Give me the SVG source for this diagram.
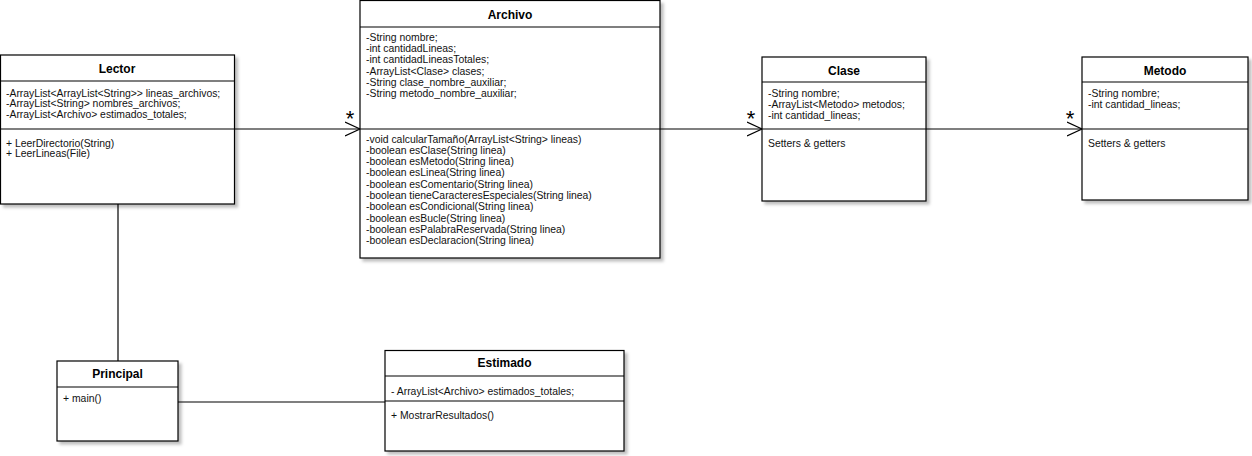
<svg xmlns="http://www.w3.org/2000/svg" width="1252" height="456" viewBox="0 0 1252 456">
<style>
.box{fill:#fff;stroke:#000;stroke-width:1.2;filter:url(#sh)}
.ln{stroke:#000;stroke-width:1.2;fill:none}
.t{font-family:"Liberation Sans",Arial,sans-serif;font-size:12px;font-weight:bold;fill:#000;text-anchor:middle}
.m{font-family:"Liberation Sans",Arial,sans-serif;font-size:10.4px;fill:#111}
.star{font-family:"Liberation Sans",Arial,sans-serif;font-size:22px;fill:#000;text-anchor:middle}
</style>
<defs>
<filter id="sh" x="-10%" y="-10%" width="130%" height="130%">
<feDropShadow dx="3" dy="3" stdDeviation="1.5" flood-color="#000" flood-opacity="0.25"/>
</filter>
<marker id="open" markerWidth="18" markerHeight="18" refX="15" refY="8" orient="auto" markerUnits="userSpaceOnUse">
<path d="M0,1 L15,8 L0,15" fill="none" stroke="#000" stroke-width="1.2"/>
</marker>
</defs>
<g id="connectors">
<line class="ln" x1="234" y1="129" x2="360" y2="129" marker-end="url(#open)"/>
<text class="star" x="350" y="126">*</text>
<line class="ln" x1="660" y1="129" x2="762" y2="129" marker-end="url(#open)"/>
<text class="star" x="751" y="126">*</text>
<line class="ln" x1="926" y1="129" x2="1082" y2="129" marker-end="url(#open)"/>
<text class="star" x="1070" y="126">*</text>
<line class="ln" x1="118" y1="204" x2="118" y2="361"/>
<line class="ln" x1="178" y1="402" x2="385" y2="402"/>
</g>
<g id="Lector">
<rect class="box" x="0.5" y="55" width="234" height="149"/>
<line class="ln" x1="0.5" y1="81" x2="234.5" y2="81"/>
<line class="ln" x1="0.5" y1="129" x2="234.5" y2="129"/>
<text class="t" x="117" y="72.5">Lector</text>
<text class="m" x="6" y="96.5">-ArrayList&lt;ArrayList&lt;String&gt;&gt; lineas_archivos;</text>
<text class="m" x="6" y="107">-ArrayList&lt;String&gt; nombres_archivos;</text>
<text class="m" x="6" y="117.5">-ArrayList&lt;Archivo&gt; estimados_totales;</text>
<text class="m" x="6" y="146.5">+ LeerDirectorio(String)</text>
<text class="m" x="6" y="157">+ LeerLineas(File)</text>
</g>
<g id="Archivo">
<rect class="box" x="360" y="0.5" width="300" height="257.5"/>
<line class="ln" x1="360" y1="27" x2="660" y2="27"/>
<line class="ln" x1="360" y1="129" x2="660" y2="129"/>
<text class="t" x="510" y="18.5">Archivo</text>
<text class="m" x="366" y="41">-String nombre;</text>
<text class="m" x="366" y="52.2">-int cantidadLineas;</text>
<text class="m" x="366" y="63.4">-int cantidadLineasTotales;</text>
<text class="m" x="366" y="74.6">-ArrayList&lt;Clase&gt; clases;</text>
<text class="m" x="366" y="85.8">-String clase_nombre_auxiliar;</text>
<text class="m" x="366" y="97">-String metodo_nombre_auxiliar;</text>
<text class="m" x="366" y="142.5">-void calcularTamaño(ArrayList&lt;String&gt; lineas)</text>
<text class="m" x="366" y="153.8">-boolean esClase(String linea)</text>
<text class="m" x="366" y="165.1">-boolean esMetodo(String linea)</text>
<text class="m" x="366" y="176.4">-boolean esLinea(String linea)</text>
<text class="m" x="366" y="187.7">-boolean esComentario(String linea)</text>
<text class="m" x="366" y="199">-boolean tieneCaracteresEspeciales(String linea)</text>
<text class="m" x="366" y="210.3">-boolean esCondicional(String linea)</text>
<text class="m" x="366" y="221.6">-boolean esBucle(String linea)</text>
<text class="m" x="366" y="232.9">-boolean esPalabraReservada(String linea)</text>
<text class="m" x="366" y="244.2">-boolean esDeclaracion(String linea)</text>
</g>
<g id="Clase">
<rect class="box" x="762" y="57" width="164" height="144"/>
<line class="ln" x1="762" y1="82" x2="926" y2="82"/>
<line class="ln" x1="762" y1="129" x2="926" y2="129"/>
<text class="t" x="844" y="74.5">Clase</text>
<text class="m" x="768" y="96.5">-String nombre;</text>
<text class="m" x="768" y="107.5">-ArrayList&lt;Metodo&gt; metodos;</text>
<text class="m" x="768" y="118.5">-int cantidad_lineas;</text>
<text class="m" x="768" y="146.5">Setters &amp; getters</text>
</g>
<g id="Metodo">
<rect class="box" x="1082" y="57" width="166" height="143"/>
<line class="ln" x1="1082" y1="82" x2="1248" y2="82"/>
<line class="ln" x1="1082" y1="129" x2="1248" y2="129"/>
<text class="t" x="1165" y="74.5">Metodo</text>
<text class="m" x="1088" y="96.5">-String nombre;</text>
<text class="m" x="1088" y="107.5">-int cantidad_lineas;</text>
<text class="m" x="1088" y="146.5">Setters &amp; getters</text>
</g>
<g id="Principal">
<rect class="box" x="57" y="361" width="121" height="80"/>
<line class="ln" x1="57" y1="387" x2="178" y2="387"/>
<text class="t" x="117.5" y="377.5">Principal</text>
<text class="m" x="63" y="401.5">+ main()</text>
</g>
<g id="Estimado">
<rect class="box" x="385" y="350.5" width="239" height="100.5"/>
<line class="ln" x1="385" y1="376" x2="624" y2="376"/>
<line class="ln" x1="385" y1="401" x2="624" y2="401"/>
<text class="t" x="504.5" y="366.5">Estimado</text>
<text class="m" x="391" y="395">- ArrayList&lt;Archivo&gt; estimados_totales;</text>
<text class="m" x="391" y="418.5">+ MostrarResultados()</text>
</g>
</svg>
